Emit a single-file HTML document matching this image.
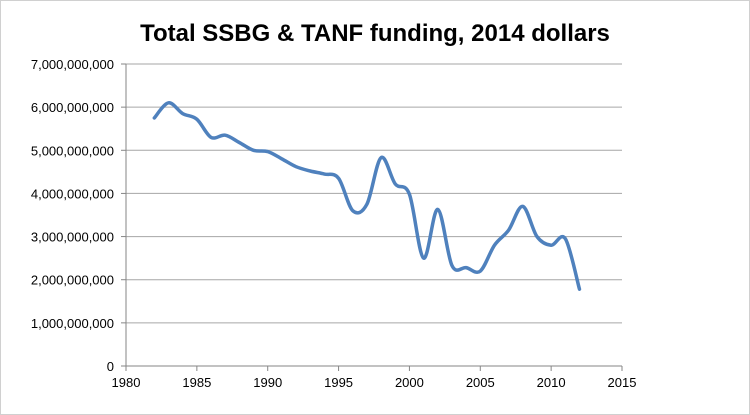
<!DOCTYPE html>
<html><head><meta charset="utf-8"><style>
body{margin:0;background:#fff}
svg{display:block;font-family:"Liberation Sans",sans-serif}
</style></head><body>
<svg id="chart" width="750" height="415">
<rect x="0.5" y="0.5" width="749" height="414" fill="#fff" stroke="#d0d0d0"/>
<text x="375" y="41" text-anchor="middle" font-size="24" font-weight="bold" fill="#000">Total SSBG &amp; TANF funding, 2014 dollars</text>
<g id="grid"></g><g id="axes"></g><path id="line" fill="none" stroke="#4f81bd" stroke-width="3.5" stroke-linejoin="round" stroke-linecap="round"/>
</svg>
<script>
const years=[1982,1983,1984,1985,1986,1987,1988,1989,1990,1991,1992,1993,1994,1995,1996,1997,1998,1999,2000,2001,2002,2003,2004,2005,2006,2007,2008,2009,2010,2011,2012];
const funding=[5.75,6.1,5.85,5.72,5.3,5.35,5.18,5.0,4.97,4.8,4.62,4.52,4.45,4.35,3.6,3.75,4.83,4.22,3.98,2.5,3.63,2.33,2.28,2.2,2.8,3.15,3.7,3.0,2.8,2.95,1.78].map(v=>v*1e9);
const yTicks=[0,1e9,2e9,3e9,4e9,5e9,6e9,7e9];
const xTicks=[1980,1985,1990,1995,2000,2005,2010,2015];
const X0=126,X1=622,Y0=366,Y1=64;
const sx=v=>X0+(v-1980)/35*(X1-X0);
const sy=v=>Y0-v/7e9*(Y0-Y1);
const NS="http://www.w3.org/2000/svg";
const grid=document.getElementById('grid'),axes=document.getElementById('axes');
function mk(tag,attrs,parent){const e=document.createElementNS(NS,tag);for(const k in attrs)e.setAttribute(k,attrs[k]);parent.appendChild(e);return e;}
yTicks.forEach(t=>{
  const y=sy(t);
  if(t>0){const l=mk('line',{x1:X0,x2:X1,y1:y,y2:y,stroke:'#a6a6a6','stroke-width':1},grid);
    
    }
  const tk=mk('line',{x1:X0-5,x2:X0,y1:y,y2:y,stroke:'#868686'},axes);
  
  
  const tx=mk('text',{x:X0-12,y:y+5,'text-anchor':'end','font-size':13,fill:'#000'},axes);
  tx.textContent=t.toLocaleString('en-US');
  
  
});
const ya=mk('line',{x1:X0,x2:X0,y1:Y1,y2:Y0,stroke:'#868686'},axes);


const xa=mk('line',{x1:X0,x2:X1,y1:Y0,y2:Y0,stroke:'#868686'},axes);


xTicks.forEach(t=>{
  const x=sx(t);
  const tk=mk('line',{x1:x,x2:x,y1:Y0,y2:Y0+5,stroke:'#868686'},axes);
  
  
  const tx=mk('text',{x:x,y:Y0+21,'text-anchor':'middle','font-size':13,fill:'#000'},axes);
  tx.textContent=t;
  
  
});
const pts=years.map((y,i)=>[sx(y),sy(funding[i])]);
let d='M'+pts[0][0]+','+pts[0][1];
for(let i=0;i<pts.length-1;i++){
  const p0=pts[Math.max(0,i-1)],p1=pts[i],p2=pts[i+1],p3=pts[Math.min(pts.length-1,i+2)];
  const t=1/6;
  d+=` C${p1[0]+(p2[0]-p0[0])*t},${p1[1]+(p2[1]-p0[1])*t} ${p2[0]-(p3[0]-p1[0])*t},${p2[1]-(p3[1]-p1[1])*t} ${p2[0]},${p2[1]}`;
}
document.getElementById('line').setAttribute('d',d);
</script>
</body></html>
